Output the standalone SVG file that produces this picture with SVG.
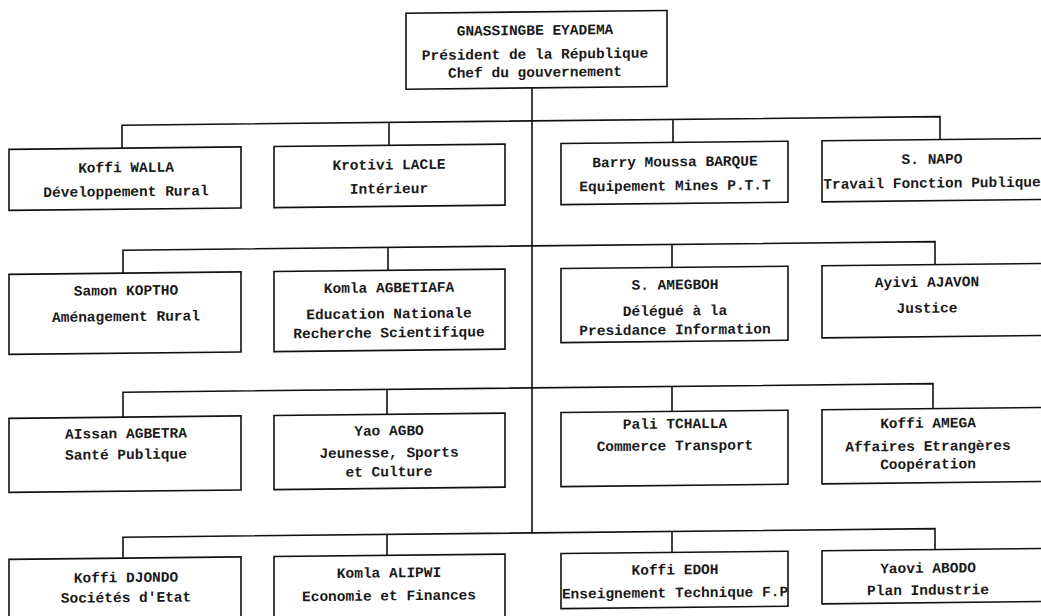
<svg xmlns="http://www.w3.org/2000/svg" width="1041" height="616" viewBox="0 0 1041 616">
<style>
.box{fill:none;stroke:#111;stroke-width:1.6}
.ln{fill:none;stroke:#111;stroke-width:1.6}
text{font-family:"Liberation Mono","DejaVu Sans Mono",monospace;font-size:14.5px;font-weight:bold;fill:#1a1a1a;text-anchor:middle}
</style>
<rect width="1041" height="616" fill="#fff"/>
<g transform="matrix(1,-0.0105,0,1,0,5.46)">
<g id="connectors">
<path class="ln" d="M532,88 V533"/>
<path class="ln" d="M122,144 V121 H940 V144 M389,121 V144 M673,121 V144"/>
<path class="ln" d="M123,269 V246 H935 V269 M388,246 V269 M672,246 V269"/>
<path class="ln" d="M123,413 V388 H933 V413 M387,388 V413 M672,388 V413"/>
<path class="ln" d="M123,554 V533 H935 V554 M387,533 V554 M672,533 V554"/>
</g>
<g id="president">
<rect class="box" x="406" y="12" width="261" height="76"/>
<text x="535" y="35">GNASSINGBE EYADEMA</text>
<text x="535" y="59">Président de la République</text>
<text x="535" y="77">Chef du gouvernement</text>
</g>
<g id="walla">
<rect class="box" x="9" y="144" width="232" height="61"/>
<text x="126" y="168">Koffi WALLA</text>
<text x="126" y="192">Développement Rural</text>
</g>
<g id="lacle">
<rect class="box" x="274" y="144" width="231" height="61"/>
<text x="389" y="168">Krotivi LACLE</text>
<text x="389" y="192">Intérieur</text>
</g>
<g id="barque">
<rect class="box" x="561" y="144" width="227" height="61"/>
<text x="675" y="168">Barry Moussa BARQUE</text>
<text x="675" y="192">Equipement Mines P.T.T</text>
</g>
<g id="napo">
<rect class="box" x="822" y="144" width="225" height="61"/>
<text x="932" y="168">S. NAPO</text>
<text x="932" y="192">Travail Fonction Publique</text>
</g>
<g id="koptho">
<rect class="box" x="9" y="269" width="232" height="80"/>
<text x="126" y="291">Samon KOPTHO</text>
<text x="126" y="317">Aménagement Rural</text>
</g>
<g id="agbetiafa">
<rect class="box" x="274" y="269" width="231" height="80"/>
<text x="389" y="291">Komla AGBETIAFA</text>
<text x="389" y="317">Education Nationale</text>
<text x="389" y="336">Recherche Scientifique</text>
</g>
<g id="amegboh">
<rect class="box" x="561" y="269" width="227" height="74"/>
<text x="675" y="291">S. AMEGBOH</text>
<text x="675" y="317">Délégué à la</text>
<text x="675" y="336">Presidance Information</text>
</g>
<g id="ajavon">
<rect class="box" x="822" y="269" width="225" height="72"/>
<text x="927" y="291">Ayivi AJAVON</text>
<text x="927" y="317">Justice</text>
</g>
<g id="agbetra">
<rect class="box" x="9" y="413" width="232" height="74"/>
<text x="126" y="434">AIssan AGBETRA</text>
<text x="126" y="455">Santé Publique</text>
</g>
<g id="agbo">
<rect class="box" x="274" y="413" width="231" height="74"/>
<text x="389" y="434">Yao AGBO</text>
<text x="389" y="456">Jeunesse, Sports</text>
<text x="389" y="475">et Culture</text>
</g>
<g id="tchalla">
<rect class="box" x="561" y="413" width="227" height="74"/>
<text x="675" y="430">Pali TCHALLA</text>
<text x="675" y="452">Commerce Transport</text>
</g>
<g id="amega">
<rect class="box" x="822" y="413" width="225" height="74"/>
<text x="928" y="432">Koffi AMEGA</text>
<text x="928" y="455">Affaires Etrangères</text>
<text x="928" y="473">Coopération</text>
</g>
<g id="djondo">
<rect class="box" x="9" y="554" width="232" height="70"/>
<text x="126" y="578">Koffi DJONDO</text>
<text x="126" y="598">Sociétés d'Etat</text>
</g>
<g id="alipwi">
<rect class="box" x="274" y="554" width="231" height="70"/>
<text x="389" y="576">Komla ALIPWI</text>
<text x="389" y="599">Economie et Finances</text>
</g>
<g id="edoh">
<rect class="box" x="561" y="554" width="227" height="55"/>
<text x="675" y="576">Koffi EDOH</text>
<text x="675" y="599">Enseignement Technique F.P</text>
</g>
<g id="abodo">
<rect class="box" x="822" y="554" width="225" height="53"/>
<text x="928" y="577">Yaovi ABODO</text>
<text x="928" y="599">Plan Industrie</text>
</g>
</g>
</svg>
